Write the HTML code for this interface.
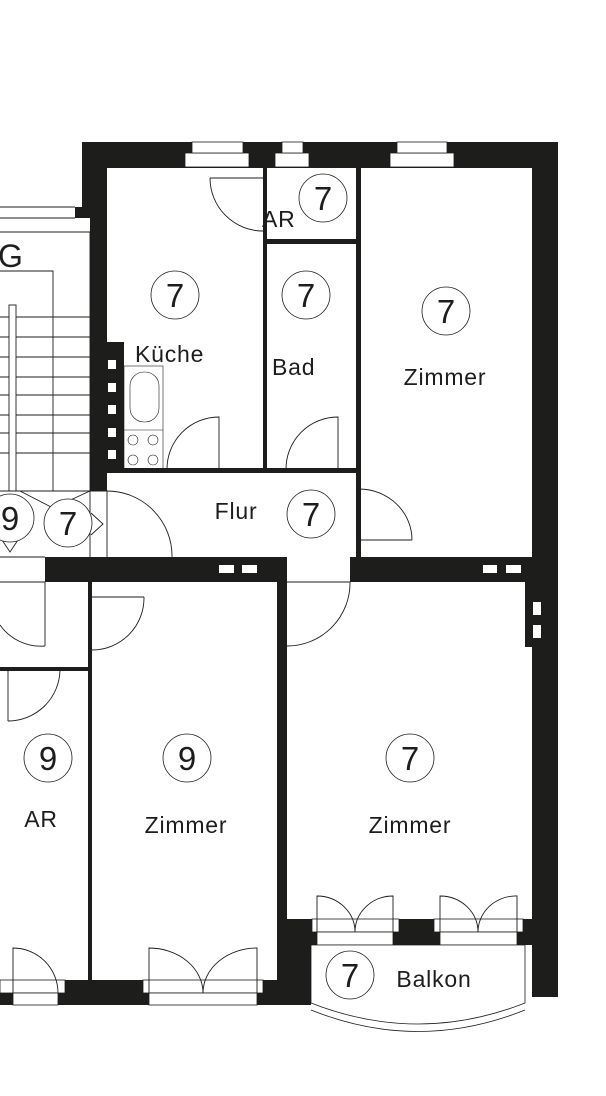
<!DOCTYPE html>
<html><head><meta charset="utf-8"><style>
html,body{margin:0;padding:0;background:#fff;}
svg{display:block;}
text{font-family:"Liberation Sans",sans-serif;fill:#1d1d1b;}
</style></head><body>
<svg width="606" height="1096" viewBox="0 0 606 1096" xmlns="http://www.w3.org/2000/svg">
<g fill="#1d1d1b">
<rect x="82" y="142" width="476" height="26"/>
<rect x="82" y="142" width="25" height="66"/>
<rect x="75" y="207" width="32" height="11"/>
<rect x="90" y="207" width="17" height="284"/>
<rect x="107" y="342" width="17" height="128"/>
<rect x="532" y="142" width="26" height="855"/>
<rect x="525" y="582" width="10" height="65"/>
<rect x="263" y="168" width="4" height="302"/>
<rect x="263" y="239" width="95" height="5"/>
<rect x="356" y="168" width="5" height="389"/>
<rect x="107" y="468" width="251" height="5"/>
<rect x="45" y="557" width="242" height="25"/>
<rect x="350" y="557" width="208" height="25"/>
<rect x="277" y="557" width="10" height="433"/>
<rect x="287" y="919" width="24" height="86"/>
<rect x="88" y="582" width="4" height="408"/>
<rect x="0" y="667" width="92" height="4"/>
<rect x="0" y="980" width="287" height="25"/>
<rect x="287" y="919" width="245" height="26"/>
</g>
<g fill="#fff" stroke="#1d1d1b" stroke-width="0.8">
<rect x="185" y="153" width="64" height="14"/><rect x="192" y="142" width="51" height="11"/>
<rect x="275" y="153" width="34" height="14"/><rect x="282" y="142" width="21" height="11"/>
<rect x="390" y="153" width="64" height="14"/><rect x="397" y="142" width="50" height="11"/>
</g>
<g fill="#fff">
<rect x="108" y="360" width="8" height="9"/><rect x="108" y="383" width="8" height="9"/><rect x="108" y="405" width="8" height="9"/><rect x="108" y="428" width="8" height="9"/><rect x="108" y="450" width="8" height="9"/>
<rect x="219" y="565" width="15" height="8"/><rect x="242" y="565" width="15" height="8"/>
<rect x="483" y="565" width="14" height="8"/><rect x="506" y="565" width="15" height="8"/>
<rect x="533" y="602" width="8" height="13"/><rect x="533" y="625" width="8" height="13"/>
<rect x="287" y="557" width="63" height="25"/>
<rect x="0" y="557" width="45" height="25"/>
</g>
<g fill="#fff" stroke="#1d1d1b" stroke-width="0.8">
<rect x="0" y="980" width="65" height="13"/><rect x="13" y="993" width="45" height="12"/>
<rect x="143" y="980" width="120" height="13"/><rect x="149" y="993" width="108" height="12"/>
<rect x="312" y="919" width="87" height="13"/><rect x="317" y="932" width="76" height="13"/>
<rect x="434" y="919" width="89" height="13"/><rect x="440" y="932" width="77" height="13"/>
<path d="M311 945 H525 V1003 Q418 1045 311 1003 Z"/>
<path d="M311 1010 Q418 1053 525 1010" fill="none"/>
</g>
<g fill="none" stroke="#1d1d1b" stroke-width="0.9">
<path d="M0 207 H75 M0 218 H75 M0 232 H90 V491"/>
<path d="M0 271 H53 V491"/>
<path d="M0 317 H90 M0 337 H90 M0 357 H90 M0 377 H90 M0 395 H90 M0 415 H90 M0 433 H90 M0 453 H90"/>
<rect x="9" y="305" width="7" height="186" fill="#fff"/>
<path d="M20 491 L53 508 L90 491"/>
<path d="M0 491 H107 M0 557 H45 M90 491 V557 M107 491 V557 M0 582 H45"/>
<path d="M91 513 L103 524 L91 535"/>
<path d="M2 540 L10 552 L18 540"/>
<path d="M210 178 H263 M210 178 A53 53 0 0 0 263 231"/>
<path d="M219 470 V417 A52 52 0 0 0 167 470"/>
<path d="M338 470 V417 A52 52 0 0 0 286 470"/>
<path d="M359 489 V540 H412 M359 489 A53 51 0 0 1 412 540"/>
<path d="M107 491 A65 65 0 0 1 172 557"/>
<path d="M92 597 H144 M144 597 A52 52 0 0 1 92 650"/>
<path d="M45 582 V646 M45 646 A50 50 0 0 1 0 625"/>
<path d="M8 670 V721 M8 721 A52 52 0 0 0 60 670"/>
<path d="M287 582 H350 M350 582 A63 63 0 0 1 287 646"/>
<path d="M13 993 V948 A45 45 0 0 1 58 993"/>
<path d="M149 993 V948 A54 45 0 0 1 203 993 M257 993 V948 A54 45 0 0 0 203 993"/>
<path d="M317 932 V896 A38 36 0 0 1 355 932 M393 932 V896 A38 36 0 0 0 355 932"/>
<path d="M440 932 V896 A38 36 0 0 1 478 932 M517 932 V896 A38 36 0 0 0 478 932"/>
<rect x="124" y="366" width="39" height="104" stroke-width="0.6"/>
<path d="M124 430 H163" stroke-width="0.6"/>
<rect x="130" y="372" width="29" height="50" rx="14" stroke-width="0.6"/>
<circle cx="133" cy="440" r="5" stroke-width="0.6"/><circle cx="153" cy="440" r="5" stroke-width="0.6"/>
<circle cx="133" cy="460" r="5" stroke-width="0.6"/><circle cx="153" cy="460" r="5" stroke-width="0.6"/>
</g>
<g fill="#fff" stroke="#1d1d1b" stroke-width="0.8">
<circle cx="175" cy="295" r="24"/><circle cx="323" cy="198" r="24"/><circle cx="306" cy="295" r="24"/>
<circle cx="446" cy="311" r="24"/><circle cx="311" cy="514" r="24"/><circle cx="10" cy="518" r="24"/>
<circle cx="68" cy="523" r="24"/><circle cx="48" cy="758" r="24"/><circle cx="187" cy="758" r="24"/>
<circle cx="410" cy="758" r="24"/><circle cx="350" cy="975" r="24"/>
</g>
<g font-size="33" text-anchor="middle">
<text x="175" y="307">7</text><text x="323" y="210">7</text><text x="306" y="307">7</text>
<text x="446" y="323">7</text><text x="311" y="526">7</text><text x="10" y="530">9</text>
<text x="68" y="535">7</text><text x="48" y="770">9</text><text x="187" y="770">9</text>
<text x="410" y="770">7</text><text x="350" y="987">7</text>
</g>
<text x="-2" y="267" font-size="32">G</text>
<g font-size="23" letter-spacing="0.8">
<text x="135" y="362">Küche</text>
<text x="262" y="227">AR</text>
<text x="272" y="375">Bad</text>
<text x="445" y="385" text-anchor="middle">Zimmer</text>
<text x="236" y="519" text-anchor="middle">Flur</text>
<text x="41" y="827" text-anchor="middle">AR</text>
<text x="186" y="833" text-anchor="middle">Zimmer</text>
<text x="410" y="833" text-anchor="middle">Zimmer</text>
<text x="434" y="987" text-anchor="middle">Balkon</text>
</g>
</svg>
</body></html>
